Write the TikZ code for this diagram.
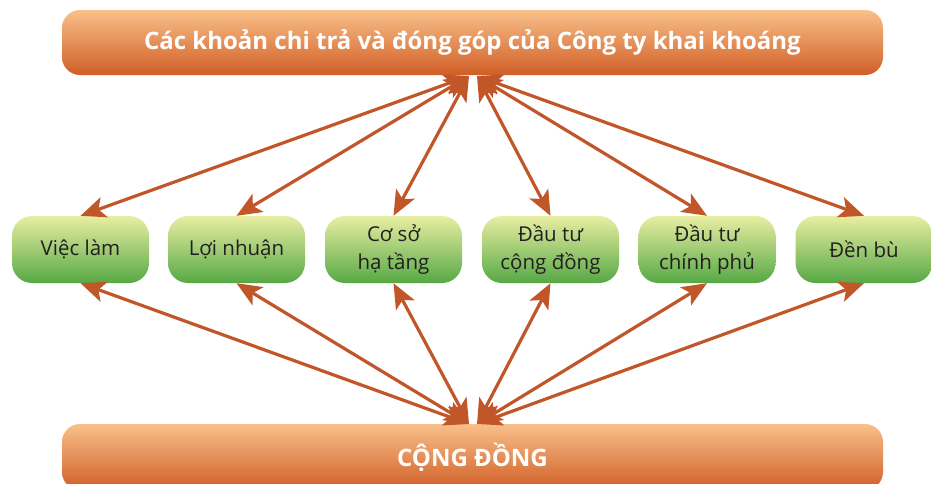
\documentclass[tikz,border=0pt]{standalone}
\usepackage{fontspec}
\setmainfont{Open Sans}
\usetikzlibrary{arrows.meta}
\definecolor{arr}{RGB}{193,86,41}
\definecolor{otop}{RGB}{249,192,138}
\definecolor{obot}{RGB}{208,94,38}
\definecolor{gtop}{RGB}{232,238,162}
\definecolor{gbot}{RGB}{86,168,69}
\definecolor{txt}{RGB}{35,31,32}
\tikzset{
  barbox/.style={rectangle, rounded corners=18pt, top color=otop, bottom color=obot, draw=none, text=white, font=\bfseries\fontsize{24}{28}\selectfont},
  greenbox/.style={rectangle, rounded corners=20pt, top color=gtop, bottom color=gbot, draw=none, minimum width=137pt, minimum height=67pt, inner sep=0pt, text=txt, align=center, font=\fontsize{20.5}{28}\selectfont},
  link/.style={draw=arr, line width=3.2pt, {Stealth[length=25pt,width=21pt,inset=6pt]}-{Stealth[length=25pt,width=21pt,inset=6pt]}}
}
\begin{document}
\begin{tikzpicture}[x=1pt,y=-1pt]
\useasboundingbox (0,0) rectangle (931,483);
\clip (0,0) rectangle (931,483);
\node[barbox, minimum width=821pt, minimum height=65pt, inner sep=0pt] (top) at (472.5,42.5) {Các khoản chi trả và đóng góp của Công ty khai khoáng};
\node[barbox, minimum width=821pt, minimum height=66pt, inner sep=0pt] (bot) at (472.5,457) {CỘNG ĐỒNG};
\node[greenbox] (b1) at (80.5,249.5) {Việc làm};
\node[greenbox] (b2) at (236.5,249.5) {Lợi nhuận};
\node[greenbox] (b3) at (393.5,249.5) {Cơ sở\\hạ tầng};
\node[greenbox] (b4) at (550.5,249.5) {Đầu tư\\cộng đồng};
\node[greenbox] (b5) at (707,249.5) {Đầu tư\\chính phủ};
\node[greenbox] (b6) at (864,249.5) {Đền bù};
\coordinate (tl) at (469,76);
\coordinate (tr) at (477,76);
\coordinate (bl) at (469,424);
\coordinate (br) at (477,424);
\foreach \b in {b1,b2,b3} {
  \draw[link] (tl) -- (\b.north);
  \draw[link] (bl) -- (\b.south);
}
\foreach \b in {b4,b5,b6} {
  \draw[link] (tr) -- (\b.north);
  \draw[link] (br) -- (\b.south);
}
\end{tikzpicture}
\end{document}
